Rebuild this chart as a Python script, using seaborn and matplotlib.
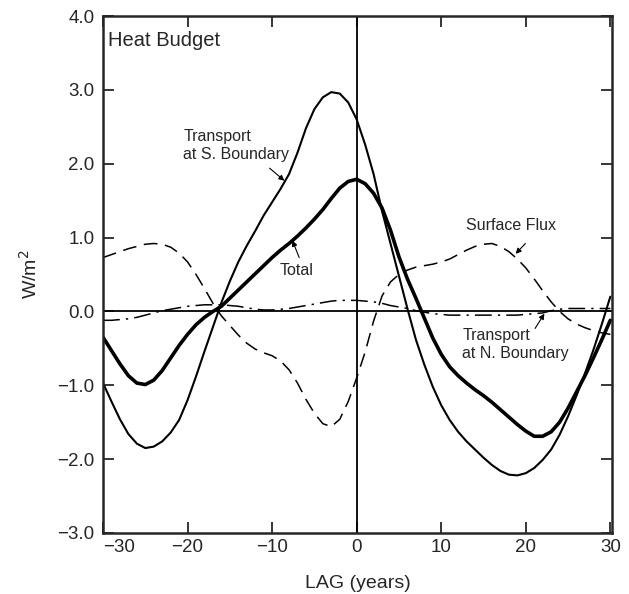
import matplotlib
matplotlib.use("Agg")
import matplotlib.pyplot as plt
import seaborn as sns

# Lag in years
lag = list(range(-30, 31))

# Heat transport at the southern boundary (W/m^2)
s_boundary = [
    -0.97, -1.22, -1.46, -1.66, -1.79, -1.85, -1.83, -1.76, -1.64, -1.47,
    -1.20, -0.88, -0.54, -0.21, 0.12, 0.41, 0.67, 0.89, 1.09, 1.30,
    1.48, 1.66, 1.86, 2.15, 2.48, 2.74, 2.90, 2.97, 2.95, 2.83,
    2.60,
    2.26, 1.86, 1.36, 0.92, 0.48, 0.04, -0.38, -0.72, -1.02, -1.27,
    -1.47, -1.63, -1.76, -1.87, -1.98, -2.08, -2.16, -2.21, -2.22, -2.19,
    -2.12, -2.01, -1.87, -1.67, -1.42, -1.14, -0.84, -0.52, -0.17, 0.20,
]

# Total heat budget
total = [
    -0.35, -0.53, -0.71, -0.87, -0.97, -0.99, -0.93, -0.80, -0.63, -0.46,
    -0.31, -0.18, -0.08, 0.00, 0.07, 0.18, 0.29, 0.40, 0.51, 0.62,
    0.73, 0.83, 0.92, 1.02, 1.13, 1.25, 1.38, 1.53, 1.67, 1.76,
    1.79,
    1.73, 1.60, 1.40, 1.10, 0.74, 0.44, 0.18, -0.09, -0.36, -0.58,
    -0.75, -0.87, -0.97, -1.06, -1.14, -1.23, -1.33, -1.43, -1.53, -1.62,
    -1.69, -1.69, -1.63, -1.50, -1.31, -1.09, -0.87, -0.63, -0.38, -0.12,
]

# Surface heat flux
surface_flux = [
    0.73, 0.77, 0.81, 0.85, 0.88, 0.91, 0.92, 0.91, 0.87, 0.79,
    0.67, 0.50, 0.31, 0.11, -0.06, -0.19, -0.32, -0.43, -0.51, -0.56,
    -0.60, -0.67, -0.79, -0.97, -1.19, -1.38, -1.52, -1.56, -1.46, -1.22,
    -0.90,
    -0.55, -0.13, 0.21, 0.40, 0.50, 0.56, 0.60, 0.62, 0.64, 0.67,
    0.71, 0.77, 0.83, 0.88, 0.91, 0.92, 0.88, 0.81, 0.71, 0.59,
    0.44, 0.28, 0.13, 0.00, -0.10, -0.17, -0.22, -0.26, -0.29, -0.31,
]

# Heat transport at the northern boundary
n_boundary = [
    -0.12, -0.12, -0.11, -0.10, -0.08, -0.05, -0.02, 0.01, 0.03, 0.05,
    0.07, 0.08, 0.09, 0.09, 0.09, 0.08, 0.07, 0.05, 0.03, 0.02,
    0.02, 0.03, 0.04, 0.06, 0.08, 0.10, 0.12, 0.14, 0.15, 0.15,
    0.15,
    0.14, 0.13, 0.11, 0.08, 0.06, 0.04, 0.01, -0.01, -0.03, -0.04,
    -0.05, -0.05, -0.05, -0.05, -0.05, -0.05, -0.05, -0.05, -0.05, -0.04,
    -0.03, -0.02, 0.01, 0.03, 0.04, 0.04, 0.04, 0.04, 0.04, 0.04,
]

x_ticks = [-30, -20, -10, 0, 10, 20, 30]
y_ticks = [-3.0, -2.0, -1.0, 0.0, 1.0, 2.0, 3.0, 4.0]

sns.set_style("ticks")
plt.rcParams["font.family"] = ["Liberation Sans", "DejaVu Sans"]

fig = plt.figure(figsize=(6.29, 5.94), dpi=100)
ax = fig.add_axes([0.1638, 0.1027, 0.8092, 0.8703])

ax.axhline(0, color="black", lw=1.3, zorder=1)
ax.axvline(0, color="black", lw=1.3, zorder=1)

joins = dict(solid_joinstyle="round", dash_joinstyle="round",
             solid_capstyle="round")
sns.lineplot(x=lag, y=s_boundary, ax=ax, color="black", lw=1.5, **joins)
sns.lineplot(x=lag, y=total, ax=ax, color="black", lw=2.6, **joins)
sns.lineplot(x=lag, y=surface_flux, ax=ax, color="black", lw=1.1,
             linestyle=(0, (9, 5)), **joins)
sns.lineplot(x=lag, y=n_boundary, ax=ax, color="black", lw=1.1,
             linestyle=(0, (11, 4, 1.5, 4)), **joins)

ax.set_xlim(-30, 30.2)
ax.set_ylim(-3.0, 4.0)
ax.set_xticks(x_ticks)
ax.set_xticklabels([f"{v}".replace("-", "\u2212") for v in x_ticks])
ax.set_yticks(y_ticks)
ax.set_yticklabels([f"{v:.1f}".replace("-", "\u2212") for v in y_ticks])
ax.tick_params(direction="in", top=True, right=True, length=8, width=1.3,
               labelsize=13.5)
ax.tick_params(axis="y", pad=6)
ax.tick_params(axis="x", pad=4)
# first lag label sits just right of the corner
first = ax.get_xticklabels()[0]
first.set_horizontalalignment("left")
for sp in ax.spines.values():
    sp.set_linewidth(1.8)

ax.set_xlabel("LAG (years)", fontsize=14, labelpad=14)
ax.set_ylabel("W/m$^2$", fontsize=14, labelpad=12)

ax.text(-29.4, 3.59, "Heat Budget", fontsize=14.5,
        ha="left", va="baseline")

arrow = dict(arrowstyle="-|>", lw=0.8, color="black", mutation_scale=8,
             shrinkA=0, shrinkB=0)

ax.text(-20.5, 2.47, "Transport\nat S. Boundary", fontsize=11.5,
        ha="left", va="top", linespacing=1.25)
ax.annotate("", xy=(-8.55, 1.77), xytext=(-10.3, 1.94), arrowprops=arrow)

ax.text(-7.1, 0.56, "Total", fontsize=11.5, ha="center", va="center")
ax.annotate("", xy=(-7.6, 0.96), xytext=(-6.8, 0.73), arrowprops=arrow)

ax.text(18.2, 1.17, "Surface Flux", fontsize=11.5, ha="center", va="center")
ax.annotate("", xy=(18.8, 0.78), xytext=(19.95, 0.92), arrowprops=arrow)

ax.text(12.5, -0.22, "Transport\nat N. Boundary", fontsize=11.5,
        ha="left", va="top", linespacing=1.25)
ax.annotate("", xy=(22.2, -0.03), xytext=(21.1, -0.23), arrowprops=arrow)

fig.savefig("out.png", dpi=100)
